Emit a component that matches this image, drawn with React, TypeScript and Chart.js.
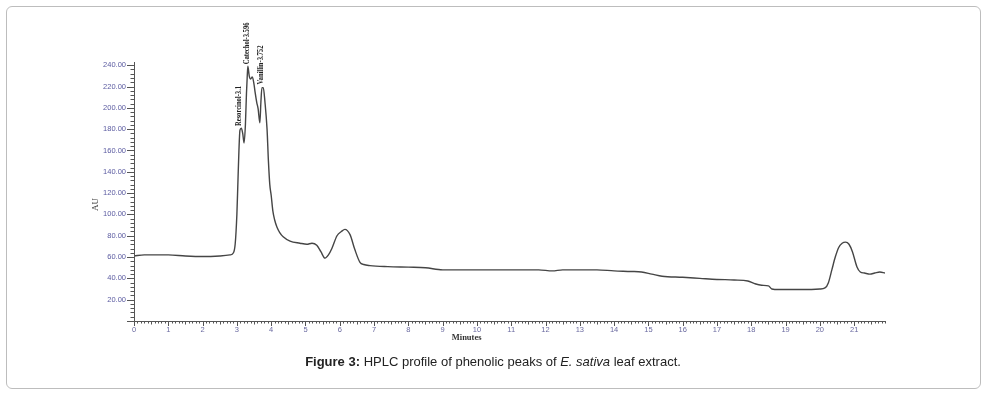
import React, { useEffect, useRef } from "react";
import { Chart, registerables } from "chart.js";

Chart.register(...registerables);

// Retention time (minutes)
const timeMin = [
  0, 0.3, 0.6, 1.0, 1.5, 2.0, 2.5, 2.8, 2.9, 2.95,
  3.0, 3.03, 3.06, 3.09, 3.13, 3.17, 3.21, 3.25, 3.28, 3.3,
  3.32, 3.36, 3.4, 3.45, 3.5, 3.53, 3.58, 3.62, 3.67, 3.7,
  3.73, 3.77, 3.82, 3.88, 3.92, 3.96, 4.0, 4.05, 4.1, 4.17,
  4.25, 4.35, 4.55, 4.84, 5.04, 5.19, 5.33, 5.45, 5.57, 5.67,
  5.77, 5.92, 6.05, 6.15, 6.3, 6.44, 6.59, 6.7, 6.88, 7.4,
  8.0, 8.5, 9.0, 10, 11, 11.8, 12.2, 12.5, 13, 13.5,
  14, 14.5, 14.8, 15.1, 15.4, 16.0, 16.5, 17.0, 17.5, 17.9,
  18.1, 18.3, 18.5, 18.6, 18.8, 19.5, 20.0, 20.15, 20.25, 20.35,
  20.45, 20.55, 20.65, 20.75, 20.85, 20.95, 21.08, 21.18, 21.3, 21.46,
  21.6, 21.75, 21.9,
];

// Detector response (AU)
const auValues = [
  61, 62, 62, 62, 61, 60.5, 61, 62, 64, 72,
  100, 130, 160, 179, 181, 176, 167, 185, 214, 228,
  239, 230, 227, 229, 222, 215, 205, 199, 186, 205,
  219, 219, 205, 180, 150, 128, 118, 103, 95, 88,
  83, 79, 75, 73, 72, 73, 71, 65, 59, 62,
  68, 80, 84, 86, 81, 67, 55, 53, 52, 51,
  50.5, 50, 48, 48, 48, 48, 47, 48, 48, 48,
  47, 46.5, 46, 44, 42, 41, 40, 39, 38.5, 37.5,
  35, 33.5, 33, 30, 29.5, 29.5, 30, 31, 36, 48,
  60, 69, 73, 74, 72, 65, 51, 46, 45, 44,
  45, 46, 45,
];

// Axis tick labels
const xTickValues = [0, 1, 2, 3, 4, 5, 6, 7, 8, 9, 10, 11, 12, 13, 14, 15, 16, 17, 18, 19, 20, 21];
const yTickValues = [20, 40, 60, 80, 100, 120, 140, 160, 180, 200, 220, 240];

// Peak annotations
const peakNames = ["Resorcinol-3.1", "Catechol-3.596", "Vanillin-3.752"];
const peakTimes = [3.08, 3.32, 3.73];
const peakHeights = [181, 239, 220];

const xTitle = "Minutes";
const yTitle = "AU";
const xMax = 21.9;
const yMax = 243;

const CANVAS_W = 992;
const CANVAS_H = 345;

const decorPlugin = {
  id: "decor",
  afterDraw(chart: any) {
    const ctx = chart.ctx as CanvasRenderingContext2D;
    const xs = chart.scales.x;
    const ys = chart.scales.y;
    const left = chart.chartArea.left;
    const bottom = chart.chartArea.bottom;
    const top = chart.chartArea.top;
    const right = chart.chartArea.right;
    ctx.save();
    ctx.strokeStyle = "#555";
    ctx.lineWidth = 1;
    // axis lines
    ctx.beginPath();
    ctx.moveTo(left + 0.5, top);
    ctx.lineTo(left + 0.5, bottom + 0.5);
    ctx.lineTo(right, bottom + 0.5);
    ctx.stroke();
    // x ticks
    ctx.beginPath();
    for (let i = 0; i <= Math.round(xMax * 10); i++) {
      const t = i / 10;
      const px = Math.round(xs.getPixelForValue(t)) + 0.5;
      const len = i % 10 === 0 ? 5 : i % 5 === 0 ? 3.5 : 2.5;
      ctx.moveTo(px, bottom);
      ctx.lineTo(px, bottom + len);
    }
    ctx.stroke();
    // y ticks
    ctx.beginPath();
    for (let v = 0; v <= 240; v += 4) {
      const py = Math.round(ys.getPixelForValue(v)) + 0.5;
      const len = v % 20 === 0 ? 7 : 3.5;
      ctx.moveTo(left, py);
      ctx.lineTo(left - len, py);
    }
    ctx.stroke();

    // peak labels (rotated)
    ctx.fillStyle = "#222";
    ctx.font = 'bold 8px "Liberation Serif", "Times New Roman", serif';
    ctx.textAlign = "left";
    ctx.textBaseline = "middle";
    for (let i = 0; i < peakNames.length; i++) {
      const px = xs.getPixelForValue(peakTimes[i]);
      const py = ys.getPixelForValue(peakHeights[i]);
      ctx.save();
      ctx.translate(px - 1, py - 2);
      ctx.rotate(-Math.PI / 2);
      ctx.scale(0.82, 1);
      ctx.fillText(peakNames[i], 0, 0);
      ctx.restore();
    }

    // axis titles
    ctx.fillStyle = "#333";
    ctx.font = '9px "Liberation Serif", "Times New Roman", serif';
    ctx.textAlign = "center";
    ctx.textBaseline = "middle";
    ctx.save();
    ctx.translate(left - 38, (top + bottom) / 2 + 13);
    ctx.rotate(-Math.PI / 2);
    ctx.fillText(yTitle, 0, 0);
    ctx.restore();
    ctx.font = 'bold 8.5px "Liberation Serif", "Times New Roman", serif';
    ctx.fillText(xTitle, xs.getPixelForValue(9.7), bottom + 17);
    ctx.restore();
  },
};

export default function App() {
  const ref = useRef<HTMLCanvasElement | null>(null);

  useEffect(() => {
    if (!ref.current) return;
    const points = timeMin.map((t, i) => ({ x: t, y: auValues[i] }));
    const chart = new Chart(ref.current, {
      type: "line",
      data: {
        datasets: [
          {
            data: points,
            borderColor: "#454545",
            borderWidth: 1.4,
            pointRadius: 0,
            fill: false,
            cubicInterpolationMode: "monotone",
          },
        ],
      },
      options: {
        animation: false,
        responsive: false,
        devicePixelRatio: 1,
        layout: { padding: { top: 62, right: 107, left: 0, bottom: 0 } },
        plugins: {
          legend: { display: false },
          tooltip: { enabled: false },
          title: { display: false },
        },
        scales: {
          x: {
            type: "linear",
            min: 0,
            max: xMax,
            border: { display: false },
            grid: { display: false, drawTicks: false },
            afterBuildTicks: (s: any) => {
              s.ticks = xTickValues.map((v) => ({ value: v }));
            },
            ticks: {
              autoSkip: false,
              maxRotation: 0,
              padding: 4,
              color: "#6a6aa0",
              font: { family: 'Arial, "Liberation Sans", sans-serif', size: 7.5 },
              callback: (v: any) => String(v),
            },
            afterFit: (s: any) => {
              s.height = CANVAS_H - 321;
            },
          },
          y: {
            type: "linear",
            min: 0,
            max: yMax,
            border: { display: false },
            grid: { display: false, drawTicks: false },
            afterBuildTicks: (s: any) => {
              s.ticks = yTickValues.map((v) => ({ value: v }));
            },
            ticks: {
              autoSkip: false,
              padding: 8,
              color: "#5a5aa0",
              font: { family: 'Arial, "Liberation Sans", sans-serif', size: 7.5 },
              callback: (v: any) => Number(v).toFixed(2),
            },
            afterFit: (s: any) => {
              s.width = 134;
            },
          },
        },
      },
      plugins: [decorPlugin],
    });
    return () => chart.destroy();
  }, []);

  return (
    <div>
      <div
        style={{
          position: "fixed",
          left: 6,
          top: 6,
          width: 975,
          height: 383,
          border: "1px solid #bdbdbd",
          borderRadius: 6,
          boxSizing: "border-box",
        }}
      />
      <canvas
        ref={ref}
        width={CANVAS_W}
        height={CANVAS_H}
        style={{ position: "fixed", left: 0, top: 0, width: CANVAS_W, height: CANVAS_H }}
      />
      <div
        style={{
          position: "fixed",
          left: 0,
          top: 354,
          width: 986,
          textAlign: "center",
          fontFamily: 'Arial, "Liberation Sans", sans-serif',
          fontSize: 13,
          lineHeight: "16px",
          color: "#222",
        }}
      >
        <b>Figure 3:</b> HPLC profile of phenolic peaks of <i>E. sativa</i> leaf extract.
      </div>
    </div>
  );
}
